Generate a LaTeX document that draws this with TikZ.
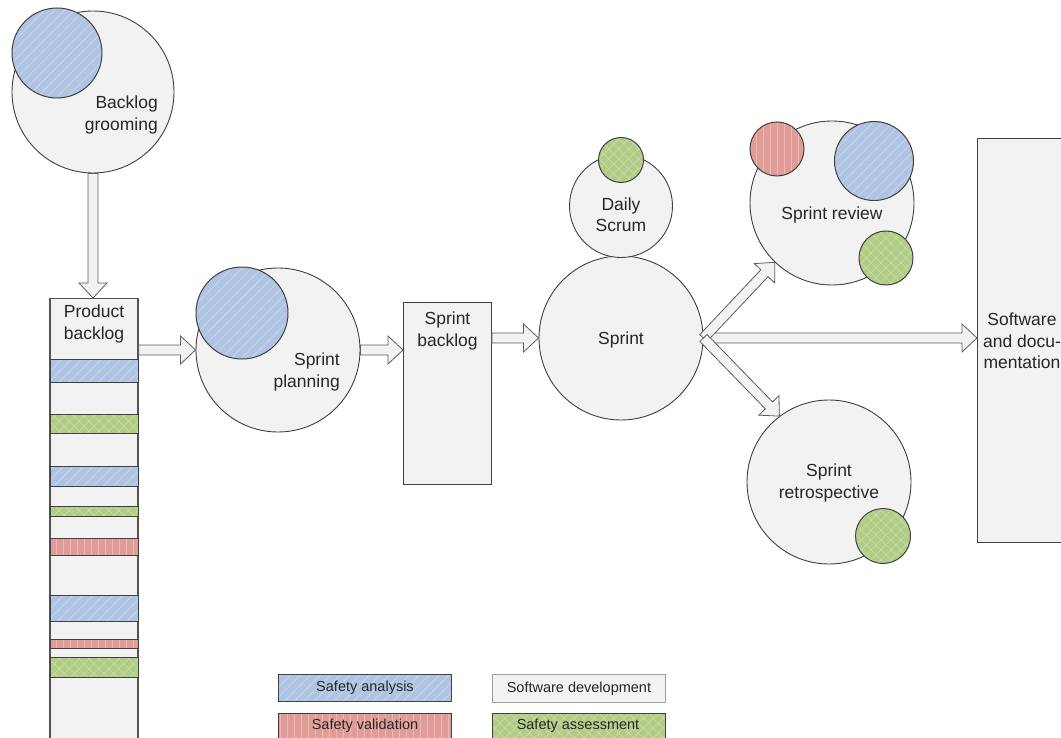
\documentclass[tikz,border=0pt]{standalone}
\usepackage{fontspec}
\setmainfont{Liberation Sans}
\usetikzlibrary{calc,patterns.meta}

\definecolor{lineC}{HTML}{404040}
\definecolor{procC}{HTML}{F2F2F2}
\definecolor{saC}{HTML}{AFC3E2}
\definecolor{saL}{HTML}{C8D6ED}
\definecolor{svC}{HTML}{E09D98}
\definecolor{svL}{HTML}{EBBAB6}
\definecolor{asC}{HTML}{B2CC86}
\definecolor{asL}{HTML}{C9DBA7}
\definecolor{txtC}{HTML}{262626}

\tikzset{
  proc/.style={draw=lineC, fill=procC, line width=0.9pt},
  disc/.style={circle, inner sep=0pt, minimum size=#1},
  analysis/.style={preaction={fill=saC},
    pattern={Lines[angle=45,distance=7pt,line width=0.9pt]}, pattern color=saL,
    draw=lineC, line width=1pt},
  validation/.style={preaction={fill=svC},
    pattern={Lines[angle=90,distance=7pt,line width=0.9pt]}, pattern color=svL,
    draw=lineC, line width=1pt},
  assessment/.style={preaction={fill=asC},
    pattern={Hatch[angle=45,distance=7pt,line width=0.7pt]}, pattern color=asL,
    draw=lineC, line width=1pt},
  lbl/.style={text=txtC, font=\fontsize{17.5}{21.5}\selectfont, align=center, inner sep=0pt},
  legtxt/.style={text=txtC, font=\fontsize{14.5}{17}\selectfont, inner sep=0pt},
  arrowbody/.style={draw=lineC!85, fill=procC, line width=0.8pt, line join=miter},
}

% hollow block arrow between two points
\newcommand\blockarrow[2]{%
  \path #1 coordinate (ba) #2 coordinate (bb);
  \path ($(bb)!15pt!(ba)$) coordinate (bh);
  \draw[arrowbody] ($(ba)!5pt!90:(bb)$) -- ($(bh)!5pt!90:(bb)$)
    -- ($(bh)!14pt!90:(bb)$) -- (bb) -- ($(bh)!14pt!-90:(bb)$)
    -- ($(bh)!5pt!-90:(bb)$) -- ($(ba)!5pt!-90:(bb)$) -- cycle;
}

\begin{document}
\begin{tikzpicture}[x=1pt,y=-1pt]
\useasboundingbox (0,0) rectangle (1061,738);
\clip (0,0) rectangle (1061,738);
\fill[white] (0,0) rectangle (1061,738);

% backlog grooming
\node[proc, disc=162pt] (bg) at (93,92) {};
\node[analysis, disc=90pt] (bga) at (57,53) {};
\node[lbl, anchor=east, align=right] (bgt) at (158,115) {Backlog\\grooming};

% product backlog column with its items
\node[proc, draw=lineC!90, line width=1.2pt, rectangle, minimum width=88pt, minimum height=460pt, anchor=north, inner sep=0pt] (pb) at (94,298) {};
\node[lbl, anchor=north] (pbt) at (94,305) {Product\\backlog};
\draw[analysis]   (50,359) rectangle (138,382);
\draw[assessment] (50,414) rectangle (138,433);
\draw[analysis]   (50,466) rectangle (138,486);
\draw[assessment] (50,506) rectangle (138,516);
\draw[validation] (50,538) rectangle (138,555);
\draw[analysis]   (50,595) rectangle (138,621);
\draw[validation] (50,639) rectangle (138,648);
\draw[assessment] (50,657) rectangle (138,677);

% sprint planning
\node[proc, disc=164pt] (sp) at (278,350) {};
\node[analysis, disc=92pt] (spa) at (242,313) {};
\node[lbl, anchor=east, align=right] (spt) at (340,372) {Sprint\\planning};

% sprint backlog
\node[proc, rectangle, minimum width=88pt, minimum height=182pt, anchor=north, inner sep=0pt] (sb) at (447.5,302) {};
\node[lbl, anchor=north] (sbt) at (sb.north) [yshift=-10pt] {Sprint\\backlog};

% sprint and daily scrum
\node[proc, disc=164pt] (sprint) at (621,338) {};
\node[lbl] (sprintt) at (621,340) {Sprint};
\node[proc, disc=103pt] (ds) at (621,206) {};
\node[assessment, disc=45pt] (dsa) at (621,160) {};
\node[lbl] (dst) at (621,214.5) {Daily\\Scrum};

% sprint review
\node[proc, disc=164pt] (rev) at (832,203) {};
\node[validation, disc=54pt] (revv) at (777,149) {};
\node[analysis, disc=79pt] (reva) at (874,161) {};
\node[assessment, disc=54pt] (revs) at (886,258) {};
\node[lbl] (revt) at (832,215) {Sprint review};

% sprint retrospective
\node[proc, disc=164pt] (ret) at (829,482) {};
\node[assessment, disc=55pt] (rets) at (883,536) {};
\node[lbl] (rett) at (829,483) {Sprint\\retrospective};

% software and documentation
\node[proc, rectangle, minimum width=95pt, minimum height=404pt, anchor=north west, inner sep=0pt] (sw) at (977,138) {};
\node[lbl] (swt) at (1022,341) {Software\\and docu-\\mentation};

% flow arrows
\blockarrow{(bg.south)}{(bg.south |- pb.north)}
\blockarrow{(pb.east |- sp.west)}{(sp.west)}
\blockarrow{(sp.east)}{(sb.west |- sp.east)}
\blockarrow{(sb.east |- sprint.west)}{(sprint.west)}
\blockarrow{(sprint.east)}{(sw.west |- sprint.east)}
\blockarrow{(sprint.east)}{(rev.226)}
\blockarrow{(sprint.east)}{(ret.127)}

% legend
\node[analysis, rectangle, minimum width=173pt, minimum height=27pt, anchor=north west, inner sep=0pt] (lga) at (278,674) {};
\node[legtxt] at (lga) {Safety analysis};
\node[proc, draw=lineC!50, rectangle, minimum width=173pt, minimum height=28pt, anchor=north west, inner sep=0pt] (lgd) at (492,674) {};
\node[legtxt] at (lgd) {Software development};
\node[validation, rectangle, minimum width=173pt, minimum height=30pt, anchor=north west, inner sep=0pt] (lgv) at (278,713) {};
\node[legtxt] at (365,726) {Safety validation};
\node[assessment, rectangle, minimum width=173pt, minimum height=30pt, anchor=north west, inner sep=0pt] (lgs) at (492,713) {};
\node[legtxt] at (578,726) {Safety assessment};
\end{tikzpicture}
\end{document}
